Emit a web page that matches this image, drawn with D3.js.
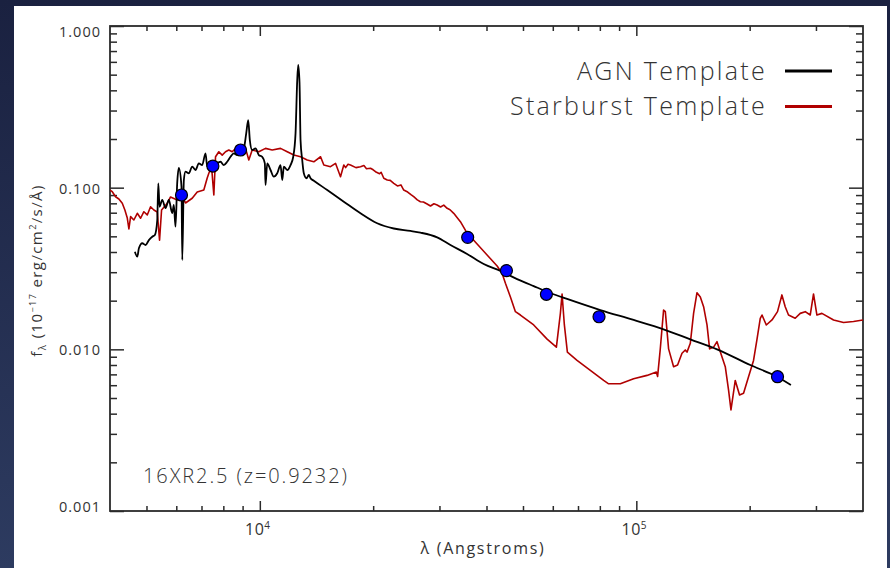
<!DOCTYPE html>
<html>
<head>
<meta charset="utf-8">
<script src="https://cdn.jsdelivr.net/npm/d3@7/dist/d3.min.js"></script>
<style>
  html, body { margin: 0; padding: 0; background: #1b2341; }
  svg { display: block; }
</style>
</head>
<body>
<svg id="chart" width="890" height="568"></svg>
<script>
// AGN template spectrum: [wavelength (Å), f_lambda (1e-17 erg/cm²/s/Å)]
const agnTemplate = [
  [4658,0.0402],[4727,0.0374],[4773,0.0422],[4873,0.0453],[4972,0.0442],[5074,0.0474],
  [5180,0.0497],[5263,0.0510],[5341,0.0631],[5374,0.1064],[5416,0.0762],[5506,0.0839],
  [5618,0.0748],[5732,0.0839],[5852,0.0697],[5910,0.0781],[5971,0.0574],[6033,0.1064],
  [6093,0.1323],[6194,0.1014],[6223,0.0357],[6284,0.1115],[6348,0.1256],[6477,0.1227],
  [6613,0.1348],[6748,0.1286],[6886,0.1414],[7030,0.1380],[7174,0.1631],[7249,0.1348],
  [7397,0.1414],[7548,0.1348],[7706,0.1414],[7863,0.1446],[8023,0.1380],[8191,0.1446],
  [8358,0.1553],[8529,0.1631],[8710,0.1591],[8887,0.1668],[9068,0.1750],[9202,0.2168],
  [9315,0.2620],[9407,0.1971],[9543,0.1710],[9740,0.1750],[9939,0.1591],[10147,0.1553],
  [10311,0.1414],[10355,0.1039],[10463,0.1414],[10676,0.1286],[10893,0.1169],[11122,0.1227],
  [11350,0.1380],[11469,0.1115],[11582,0.1348],[11825,0.1286],[12066,0.1380],[12267,0.1553],
  [12441,0.2168],[12571,0.4634],[12648,0.5739],[12749,0.4420],[12827,0.1971],[12960,0.1483],
  [13088,0.1227],[13305,0.1143],[13494,0.1198],[13635,0.1143],[13913,0.1104],[15101,0.0967],
  [16712,0.0819],[18508,0.0694],[20496,0.0602],[22687,0.0559],[25122,0.0540],[26702,0.0527],
  [29580,0.0493],[32084,0.0442],[35523,0.0389],[39326,0.0337],[43561,0.0305],[48238,0.0272],
  [53384,0.0246],[59128,0.0223],[65478,0.0205],[80234,0.0175],[98360,0.0152],[118140,0.0133],
  [139130,0.01153],[163800,0.0100],[200730,0.0080],[236270,0.00677],[257390,0.00602]
];

// Starburst template spectrum: [wavelength (Å), f_lambda]
const starburstTemplate = [
  [4000,0.0967],[4056,0.0944],[4139,0.0879],[4223,0.0851],[4312,0.0800],[4381,0.0727],
  [4446,0.0649],[4490,0.0555],[4537,0.0662],[4629,0.0631],[4727,0.0694],[4823,0.0647],
  [4921,0.0710],[5024,0.0678],[5126,0.0762],[5231,0.0727],[5341,0.0707],[5416,0.0474],
  [5483,0.0727],[5677,0.0800],[5792,0.0876],[6033,0.0839],[6284,0.0839],[6348,0.0804],
  [6613,0.0860],[6819,0.0940],[7100,0.0967],[7249,0.1148],[7321,0.1227],[7444,0.1348],
  [7548,0.0901],[7627,0.1553],[7782,0.1668],[7945,0.1591],[8108,0.1668],[8272,0.1710],
  [8446,0.1668],[8710,0.1791],[8980,0.1835],[9163,0.1750],[9349,0.1483],[9543,0.1710],
  [9939,0.1668],[10355,0.1750],[10787,0.1710],[11350,0.1750],[11825,0.1668],[12313,0.1591],
  [12827,0.1553],[13362,0.1483],[13913,0.1446],[14497,0.1553],[14792,0.1380],[15408,0.1348],
  [15886,0.1414],[16379,0.1169],[16712,0.1380],[16900,0.1330],[17150,0.1395],[17408,0.1380],
  [18000,0.1330],[18508,0.1348],[18900,0.1370],[19200,0.1310],[19676,0.1318],[20000,0.1290],
  [20287,0.1256],[20800,0.1220],[21000,0.1245],[21343,0.1143],[21800,0.1115],[22200,0.1110],
  [22687,0.1064],[23200,0.1025],[23700,0.1040],[24115,0.0967],[24700,0.0940],[25200,0.0905],
  [25629,0.0879],[26200,0.0840],[26702,0.0819],[27200,0.0815],[27818,0.0793],[28400,0.0770],
  [29000,0.0795],[29580,0.0781],[30200,0.0760],[30800,0.0780],[31444,0.0745],[32000,0.0730],
  [32734,0.0694],[34100,0.0616],[35523,0.0524],
  [37768,0.0448],[40144,0.0383],[42689,0.0328],[44012,0.0295],[44910,0.0256],[46303,0.0211],
  [47739,0.0171],[49218,0.0163],[53384,0.01415],[57947,0.01156],[61330,0.01032],[62847,0.01669],
  [63503,0.02197],[64400,0.01415],[65593,0.00961],[69591,0.00854],[75487,0.00740],[81880,0.00642],
  [84420,0.00612],[90680,0.00612],[98360,0.00657],[106760,0.00690],[113000,0.00723],[113910,0.00680],
  [115780,0.01007],[118140,0.0175],[119400,0.0171],[121820,0.01007],[125600,0.00781],[128710,0.00800],
  [132220,0.00945],[134920,0.00991],[136330,0.00961],[139130,0.01090],[141940,0.01669],[144920,0.0224],
  [147900,0.0211],[150910,0.01836],[154080,0.01415],[156550,0.01007],[160420,0.01032],[163800,0.01115],
  [167100,0.00967],[172290,0.00781],[175790,0.00560],[178390,0.00422],[183140,0.00642],[188010,0.00522],
  [192660,0.00535],[198640,0.00677],[204800,0.00854],[209000,0.01142],[213400,0.01556],[215690,0.0163],
  [221430,0.01414],[229280,0.0152],[237140,0.0171],[243600,0.0217],[248570,0.01836],[253630,0.0163],
  [264230,0.01556],[272480,0.01669],[280930,0.0171],[289650,0.0163],[295550,0.0220],[301760,0.0163],
  [311130,0.01669],[334100,0.0152],[355080,0.01464],[377440,0.01485],[400000,0.0152]
];

// Observed photometry: [wavelength (Å), f_lambda]
const photometry = [
  [6194,0.0901],[7504,0.1361],[8887,0.1710],[35652,0.0493],
  [45184,0.0307],[57700,0.0219],[79600,0.0159],[237140,0.00677]
];

const xDomain = [4000, 400000];
const yDomain = [0.001, 1];
const xMajorTicks = [1e4, 1e5];
const xMajorExponents = ["4", "5"];
const xMinorTicks = [5000,6000,7000,8000,9000,20000,30000,40000,50000,60000,70000,80000,90000,200000,300000];
const yMajorTicks = [0.001, 0.01, 0.1, 1];
const yMajorLabels = ["0.001", "0.010", "0.100", "1.000"];
const yMinorTicks = [];
[0.001, 0.01, 0.1].forEach(d => { for (let m = 2; m <= 9; m++) yMinorTicks.push(+(d * m).toPrecision(3)); });
const seriesNames = ["AGN Template", "Starburst Template"];
const seriesColors = ["#000000", "#b00000"];
const objectLabel = "16XR2.5 (z=0.9232)";

const W = 890, H = 568;
const plot = { left: 110, right: 863, top: 26, bottom: 511 };
const svg = d3.select("#chart");
const defs = svg.append("defs");

// backdrop
const grad = defs.append("linearGradient").attr("id", "bg").attr("x1", 0).attr("y1", 0).attr("x2", 0).attr("y2", 1);
grad.append("stop").attr("offset", "0%").attr("stop-color", "#1a2140");
grad.append("stop").attr("offset", "100%").attr("stop-color", "#2d3b60");
svg.append("rect").attr("width", W).attr("height", H).attr("fill", "url(#bg)");
svg.append("rect").attr("x", 14).attr("y", 6).attr("width", 873).attr("height", H - 6).attr("fill", "#ffffff");

defs.append("clipPath").attr("id", "plotClip").append("rect")
  .attr("x", plot.left).attr("y", plot.top)
  .attr("width", plot.right - plot.left).attr("height", plot.bottom - plot.top);

const x = d3.scaleLog().domain(xDomain).range([plot.left, plot.right]);
const y = d3.scaleLog().domain(yDomain).range([plot.bottom, plot.top]);

const axisColor = "#2b2b2b";
const textColor = "#333333";
const font = "'Open Sans', 'DejaVu Sans', sans-serif";

function styleAxis(g) {
  g.select(".domain").remove();
  g.selectAll(".tick line").attr("stroke", axisColor).attr("stroke-width", 1.5);
  g.selectAll(".tick text").remove();
}

// ticks pointing into the plot on all four sides
svg.append("g").attr("transform", `translate(0,${plot.bottom})`)
  .call(d3.axisBottom(x).tickValues(xMajorTicks).tickSize(-10).tickSizeOuter(0)).call(styleAxis);
svg.append("g").attr("transform", `translate(0,${plot.bottom})`)
  .call(d3.axisBottom(x).tickValues(xMinorTicks).tickSize(-5).tickSizeOuter(0)).call(styleAxis);
svg.append("g").attr("transform", `translate(0,${plot.top})`)
  .call(d3.axisTop(x).tickValues(xMajorTicks).tickSize(-10).tickSizeOuter(0)).call(styleAxis);
svg.append("g").attr("transform", `translate(0,${plot.top})`)
  .call(d3.axisTop(x).tickValues(xMinorTicks).tickSize(-5).tickSizeOuter(0)).call(styleAxis);
svg.append("g").attr("transform", `translate(${plot.left},0)`)
  .call(d3.axisLeft(y).tickValues(yMajorTicks).tickSize(-14).tickSizeOuter(0)).call(styleAxis);
svg.append("g").attr("transform", `translate(${plot.left},0)`)
  .call(d3.axisLeft(y).tickValues(yMinorTicks).tickSize(-7).tickSizeOuter(0)).call(styleAxis);
svg.append("g").attr("transform", `translate(${plot.right},0)`)
  .call(d3.axisRight(y).tickValues(yMajorTicks).tickSize(-14).tickSizeOuter(0)).call(styleAxis);
svg.append("g").attr("transform", `translate(${plot.right},0)`)
  .call(d3.axisRight(y).tickValues(yMinorTicks).tickSize(-7).tickSizeOuter(0)).call(styleAxis);

// frame
svg.append("rect").attr("x", plot.left).attr("y", plot.top)
  .attr("width", plot.right - plot.left).attr("height", plot.bottom - plot.top)
  .attr("fill", "none").attr("stroke", axisColor).attr("stroke-width", 1.8);

// y tick labels (end labels nudged inside the frame)
const yLabelNudge = [-4, 0, 1, 6];
svg.append("g").selectAll("text").data(yMajorTicks).join("text")
  .attr("x", plot.left - 9)
  .attr("y", (d, i) => y(d) + yLabelNudge[i])
  .attr("dy", "0.36em")
  .attr("text-anchor", "end")
  .attr("letter-spacing", 1)
  .attr("font-family", font).attr("font-size", 14.5).attr("fill", textColor)
  .text((d, i) => yMajorLabels[i]);

// x tick labels as powers of ten
const xl = svg.append("g").selectAll("text").data(xMajorTicks).join("text")
  .attr("x", d => x(d) - 2)
  .attr("y", plot.bottom + 24)
  .attr("text-anchor", "middle")
  .attr("letter-spacing", 0.5)
  .attr("font-family", font).attr("font-size", 16).attr("fill", textColor);
xl.append("tspan").text("10");
xl.append("tspan").attr("dy", -6).attr("font-size", 10).text((d, i) => xMajorExponents[i]);

// axis titles
svg.append("text")
  .attr("x", 483).attr("y", 554)
  .attr("text-anchor", "middle")
  .attr("letter-spacing", 1.7)
  .attr("font-family", font).attr("font-size", 16).attr("fill", textColor)
  .text("λ (Angstroms)");

const yt = svg.append("text")
  .attr("transform", `translate(42,${(plot.top + plot.bottom) / 2 + 2}) rotate(-90)`)
  .attr("text-anchor", "middle")
  .attr("letter-spacing", 1.4)
  .attr("font-family", font).attr("font-size", 15).attr("fill", textColor);
yt.append("tspan").text("f");
yt.append("tspan").attr("dy", 4).attr("font-size", 10).text("λ");
yt.append("tspan").attr("dy", -4).text(" (10");
yt.append("tspan").attr("dy", -6).attr("font-size", 9).text("−17");
yt.append("tspan").attr("dy", 6).text(" erg/cm");
yt.append("tspan").attr("dy", -6).attr("font-size", 9).text("2");
yt.append("tspan").attr("dy", 6).text("/s/Å)");

// spectra
const line = d3.line().x(d => x(d[0])).y(d => y(d[1]));
const smoothLine = d3.line().x(d => x(d[0])).y(d => y(d[1])).curve(d3.curveMonotoneX);
const curves = svg.append("g").attr("clip-path", "url(#plotClip)");
curves.append("path").datum(starburstTemplate)
  .attr("d", line).attr("fill", "none")
  .attr("stroke", seriesColors[1]).attr("stroke-width", 1.6).attr("stroke-linejoin", "round");
curves.append("path").datum(agnTemplate)
  .attr("d", smoothLine).attr("fill", "none")
  .attr("stroke", seriesColors[0]).attr("stroke-width", 1.8).attr("stroke-linejoin", "round");

// photometric points
svg.append("g").selectAll("circle").data(photometry).join("circle")
  .attr("cx", d => x(d[0])).attr("cy", d => y(d[1]))
  .attr("r", 6)
  .attr("fill", "#0000ff").attr("stroke", "#000").attr("stroke-width", 1.2);

// legend
const legend = svg.append("g");
seriesNames.forEach((name, i) => {
  const ly = 71 + i * 35.5;
  legend.append("text")
    .attr("x", 767).attr("y", ly).attr("dy", "0.35em")
    .attr("text-anchor", "end")
    .attr("letter-spacing", 2.3)
    .attr("font-family", font).attr("font-weight", 300).attr("font-size", 25)
    .attr("fill", textColor).text(name);
  legend.append("line")
    .attr("x1", 785).attr("x2", 832).attr("y1", ly).attr("y2", ly)
    .attr("stroke", seriesColors[i]).attr("stroke-width", 3);
});

// object label
svg.append("text")
  .attr("x", 143).attr("y", 476).attr("dy", "0.35em")
  .attr("letter-spacing", 1.9)
  .attr("font-family", font).attr("font-weight", 300).attr("font-size", 20)
  .attr("fill", textColor).text(objectLabel);
</script>
</body>
</html>
